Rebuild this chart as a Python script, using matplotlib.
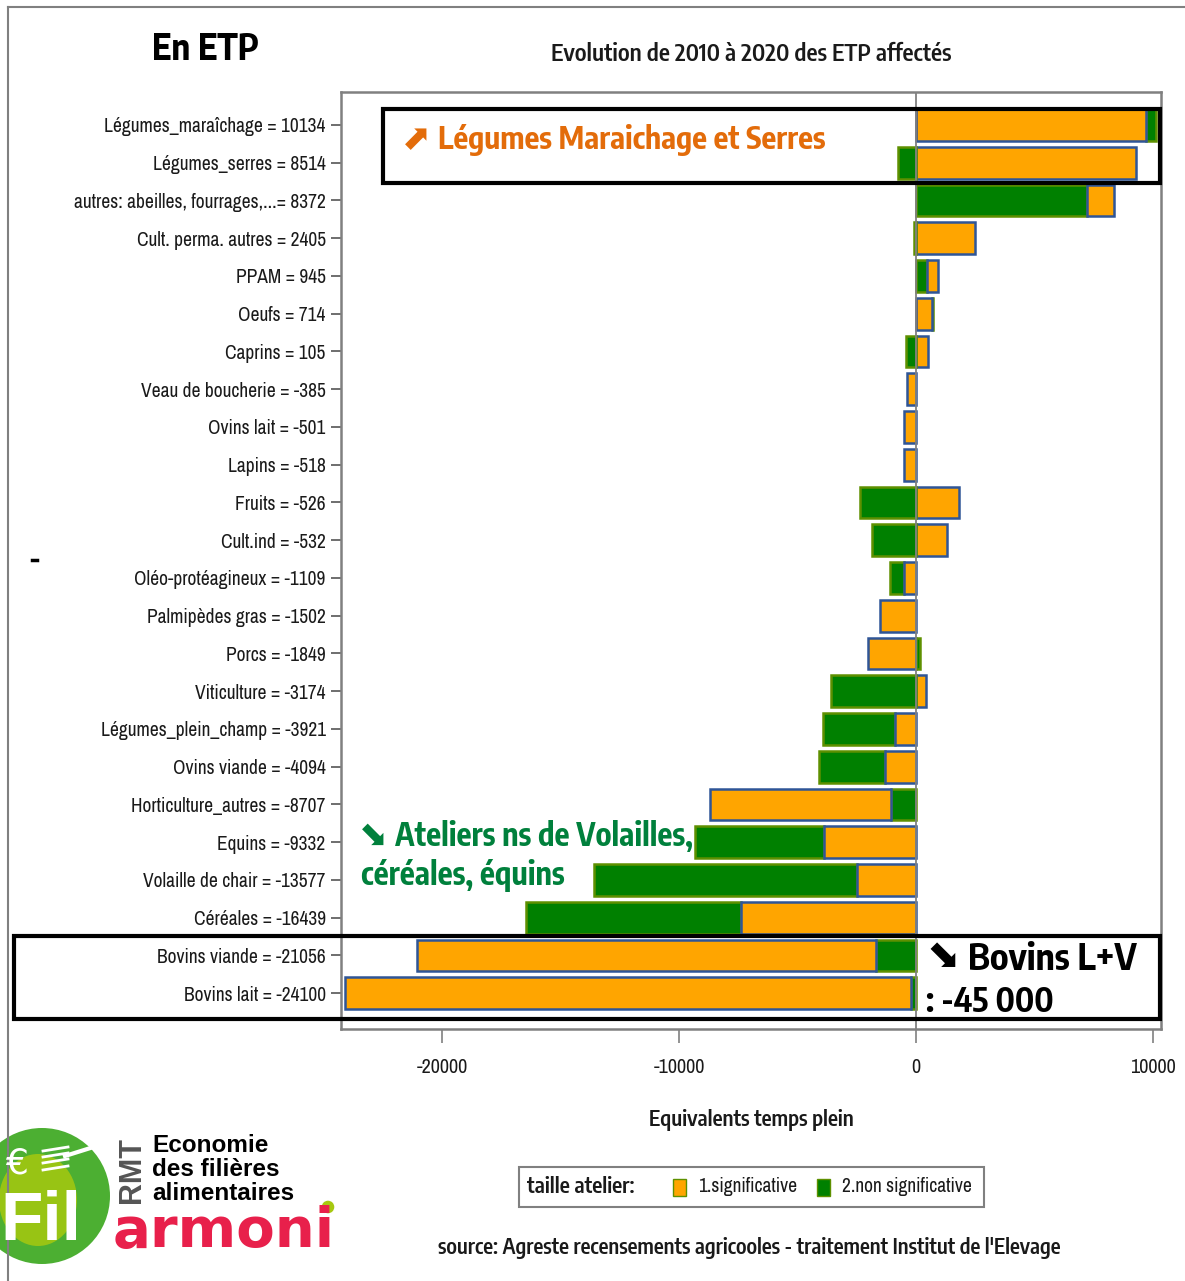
import matplotlib
matplotlib.use("Agg")
import matplotlib.pyplot as plt
from matplotlib.patches import Rectangle, Circle, Ellipse
from matplotlib.lines import Line2D
import logging
logging.getLogger('matplotlib.font_manager').setLevel(logging.ERROR)

NARROW = ['Archivo Narrow', 'Liberation Sans', 'DejaVu Sans']
BOLD = ['Encode Sans Condensed', 'Liberation Sans', 'DejaVu Sans']
plt.rcParams['font.family'] = NARROW

categories = ["Légumes_maraîchage = 10134", "Légumes_serres = 8514", "autres: abeilles, fourrages,...= 8372",
              "Cult. perma. autres = 2405", "PPAM = 945", "Oeufs = 714", "Caprins = 105", "Veau de boucherie = -385",
              "Ovins lait = -501", "Lapins = -518", "Fruits = -526", "Cult.ind = -532", "Oléo-protéagineux = -1109",
              "Palmipèdes gras = -1502", "Porcs = -1849", "Viticulture = -3174", "Légumes_plein_champ = -3921",
              "Ovins viande = -4094", "Horticulture_autres = -8707", "Equins = -9332", "Volaille de chair = -13577",
              "Céréales = -16439", "Bovins viande = -21056", "Bovins lait = -24100"]
significative = [9700, 9290, 1157, 2490, 481, 684, 525, -385, -501, -518, 1830, 1310, -500, -1502,
                 -2025, 420, -880, -1300, -7657, -3880, -2490, -7380, -19366, -23890]
non_significative = [434, -776, 7215, -85, 464, 30, -420, 0, 0, 0, -2356, -1842, -609, 0,
                     176, -3594, -3041, -2794, -1050, -5452, -11087, -9059, -1690, -210]
green_inner = [2, 4, 18, 22, 23]
xticks = [-20000, -10000, 0, 10000]

ORANGE, GREEN = '#FFA500', '#008000'
EDGE_O, EDGE_G = '#2F5597', '#5E9000'
W, H = 1185, 1281
fig = plt.figure(figsize=(W / 100, H / 100), dpi=100, facecolor='white')
L, R, T, B = 341, 1161, 92, 1029
ax = fig.add_axes([L / W, 1 - B / H, (R - L) / W, (B - T) / H])

y = list(range(len(categories)))
for i in y:
    o, g = significative[i], non_significative[i]
    same = o * g > 0
    left_o = g if (same and i in green_inner) else 0
    left_g = o if (same and i not in green_inner) else 0
    ax.barh(i, o, left=left_o, height=0.84, color=ORANGE, edgecolor=EDGE_O, linewidth=1.8, zorder=3 if same else 2)
    if g:
        ax.barh(i, g, left=left_g, height=0.84, color=GREEN, edgecolor=EDGE_G, linewidth=1.8, zorder=2)

ax.axvline(0, color='#808080', lw=1.3, zorder=4)
ax.set_xlim(-24262, 10338)
ax.set_ylim(23.95, -0.874)
ax.set_yticks(y, categories, fontsize=14, color='#1a1a1a')
ax.set_xticks(xticks, [str(v) for v in xticks], fontsize=14.5, color='#1a1a1a')
ax.tick_params(axis='y', length=7, width=1.2, color='#555555', pad=4)
ax.tick_params(axis='x', length=10, width=1.2, color='#808080', pad=11)
for s in ax.spines.values():
    s.set_color('#808080')
    s.set_linewidth(1.8)
ax.set_xlabel("Equivalents temps plein", fontsize=15.5, fontweight=600, family=BOLD, labelpad=23, color='#1a1a1a')
ax.set_title("Evolution de 2010 à 2020 des ETP affectés", fontsize=17, fontweight=600, family=BOLD, pad=22,
             color='#1a1a1a', x=0.5)

ov = fig.add_axes([0, 0, 1, 1], zorder=10)
ov.set_xlim(0, W)
ov.set_ylim(H, 0)
ov.axis('off')
ov.patch.set_alpha(0)

ov.add_line(Line2D([8, 8], [7, H], color='#808080', lw=1.5))
ov.add_line(Line2D([8, W], [7, 7], color='#808080', lw=1.5))
ov.add_line(Line2D([32, 37], [560, 560], color='black', lw=2.5))

ov.text(205, 49, "En ETP", fontsize=26, fontweight=700, family=BOLD, ha='center', va='center', color='black')

ov.add_patch(Rectangle((383, 109), 777, 74, fill=False, ec='black', lw=3))
ov.add_patch(Rectangle((14, 936), 1146, 83, fill=False, ec='black', lw=3))

AR = ['DejaVu Sans']
ov.text(402, 139, "⬈", fontsize=25, color='#E36C0A', family=AR, va='center')
ov.text(438, 140, "Légumes Maraichage et Serres", fontsize=22.2, fontweight=700, family=BOLD, color='#E36C0A', va='center')
ov.text(359, 836, "⬊", fontsize=25, color='#00803C', family=AR, va='center')
ov.text(395, 837, "Ateliers ns de Volailles,", fontsize=22.6, fontweight=700, family=BOLD, color='#00803C', va='center')
ov.text(361, 876, "céréales, équins", fontsize=22.6, fontweight=700, family=BOLD, color='#00803C', va='center')
ov.text(926, 957, "⬊", fontsize=29, color='black', family=AR, va='center')
ov.text(968, 960, "Bovins L+V", fontsize=26.3, fontweight=700, family=BOLD, color='black', va='center')
ov.text(926, 1003, ": -45 000", fontsize=24, fontweight=700, family=BOLD, color='black', va='center')

ov.add_patch(Rectangle((519, 1167), 465, 40, fill=False, ec='#808080', lw=1.5))
ov.text(527, 1187, "taille atelier:", fontsize=15.7, fontweight=600, family=BOLD, va='center', color='#1a1a1a')
ov.add_patch(Rectangle((673, 1179), 13, 17, fc=ORANGE, ec=EDGE_G, lw=1))
ov.text(698, 1187, "1.significative", fontsize=14, va='center', color='#1a1a1a')
ov.add_patch(Rectangle((817, 1179), 13, 17, fc=GREEN, ec=EDGE_G, lw=1))
ov.text(842, 1187, "2.non significative", fontsize=14, va='center', color='#1a1a1a')

ov.text(438, 1248, "source: Agreste recensements agricooles - traitement Institut de l'Elevage",
        fontsize=15.3, fontweight=600, family=BOLD, va='center', color='#1a1a1a')

# logo
ov.add_patch(Circle((42, 1196), 68, fc='#4CAF32', ec='none'))
ov.add_patch(Ellipse((38, 1200), 78, 92, fc='#A6C80F', ec='none', alpha=0.85))
ov.text(0, 1222, "Fil", fontsize=50, fontweight='bold', color='white', va='center', family=['Liberation Sans'])
ov.text(17, 1163, "€", fontsize=26, color='white', va='center', ha='center', family=['DejaVu Sans'])
ov.add_line(Line2D([65, 100], [1156, 1145], color='white', lw=3))
for yy in (1151, 1157, 1163, 1170):
    ov.add_line(Line2D([43, 68], [yy, yy - 4], color='white', lw=2))
ov.text(132, 1170, "RMT", fontsize=22, fontweight='bold', rotation=90, color='#555555', ha='center', va='center',
        family=['Liberation Sans'])
for yy, s in ((1146, "Economie"), (1170, "des filières"), (1193, "alimentaires")):
    ov.text(152, yy, s, fontsize=17.5, fontweight='bold', color='black', va='center', family=['Liberation Sans'])
ov.text(113, 1232, "armoni", fontsize=40.5, fontweight='bold', color='#E8204B', va='center', family=['DejaVu Sans'])
ov.add_patch(Circle((328, 1207), 7, fc='#A6C80F', ec='white', lw=1))

fig.savefig('out.png', dpi=100, facecolor='white')
